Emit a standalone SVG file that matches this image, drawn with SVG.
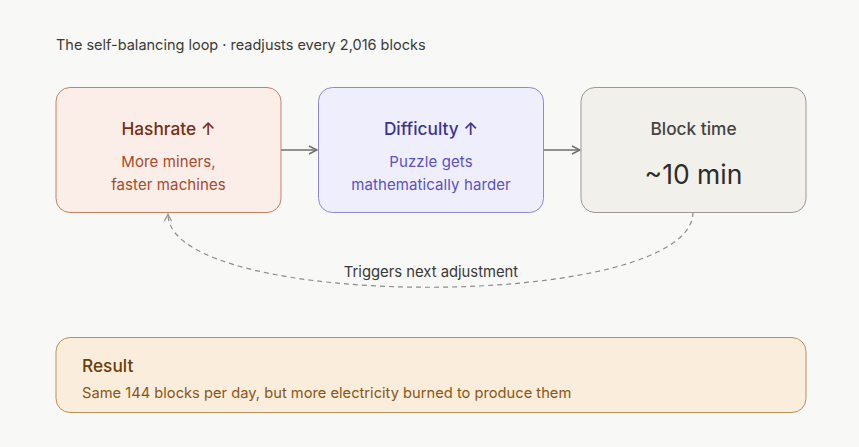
<svg xmlns="http://www.w3.org/2000/svg" width="859" height="447" viewBox="0 0 859 447">
<style>
text{font-family:Inter,"Noto Sans","Liberation Sans",sans-serif}
.t{font-size:17.3px;font-weight:500;text-anchor:middle}
.s{font-size:15px;text-anchor:middle;letter-spacing:0.1px}
.conn{stroke:#6f6f6b;stroke-width:1.5;fill:none}
</style>
<defs>
<marker id="ah" viewBox="0 0 10 10" refX="9" refY="5" markerWidth="10" markerHeight="10" markerUnits="userSpaceOnUse" orient="auto"><path d="M1 1L9 5L1 9" fill="none" stroke="#6f6f6b" stroke-width="1.5"/></marker>
<marker id="ahd" viewBox="0 0 10 10" refX="9" refY="5" markerWidth="9" markerHeight="9" markerUnits="userSpaceOnUse" orient="auto"><path d="M1 1L9 5L1 9" fill="none" stroke="#8c8c88" stroke-width="1.2"/></marker>
</defs>
<rect width="859" height="447" fill="#f8f8f6"/>
<text x="56" y="50" font-size="14.5" fill="#3a3a38">The self-balancing loop · readjusts every 2,016 blocks</text>
<g id="connectors">
<line class="conn" x1="281" y1="150" x2="317" y2="150" marker-end="url(#ah)"/>
<line class="conn" x1="543" y1="150" x2="580" y2="150" marker-end="url(#ah)"/>
<path d="M693 212C693 312 168 312 168 214" fill="none" stroke="#8c8c88" stroke-width="1.2" stroke-dasharray="5 4" marker-end="url(#ahd)"/>
<text x="431" y="277" font-size="14.8" text-anchor="middle" fill="#3a3a38">Triggers next adjustment</text>
</g>
<g id="hashrate">
<rect x="56" y="87.5" width="225" height="125" rx="14" fill="#fbede7" stroke="#c98068"/>
<text class="t" x="168.5" y="135" fill="#7a2f14">Hashrate ↑</text>
<text class="s" x="168.5" y="167" fill="#a84a2c">More miners,</text>
<text class="s" x="168.5" y="190" fill="#a84a2c">faster machines</text>
</g>
<g id="difficulty">
<rect x="318.5" y="87.5" width="225" height="125" rx="14" fill="#efeefd" stroke="#8d88dc"/>
<text class="t" x="431" y="135" fill="#3a3490">Difficulty ↑</text>
<text class="s" x="431" y="167" fill="#5b51c6">Puzzle gets</text>
<text class="s" x="431" y="190" fill="#5b51c6">mathematically harder</text>
</g>
<g id="blocktime">
<rect x="581" y="87.5" width="225" height="125" rx="14" fill="#f2f0ea" stroke="#9a9994"/>
<text class="t" x="693.5" y="135" font-weight="400" fill="#444442">Block time</text>
<text x="693.5" y="184" font-size="26.5" text-anchor="middle" fill="#2c2c2a">~10 min</text>
</g>
<g id="result">
<rect x="56" y="337.5" width="750" height="75" rx="14" fill="#faeddb" stroke="#b8925c"/>
<text x="82" y="372" font-size="17.3" font-weight="500" fill="#6a3d0d">Result</text>
<text x="82" y="398" font-size="14.7" fill="#8c5517">Same 144 blocks per day, but more electricity burned to produce them</text>
</g>
</svg>
